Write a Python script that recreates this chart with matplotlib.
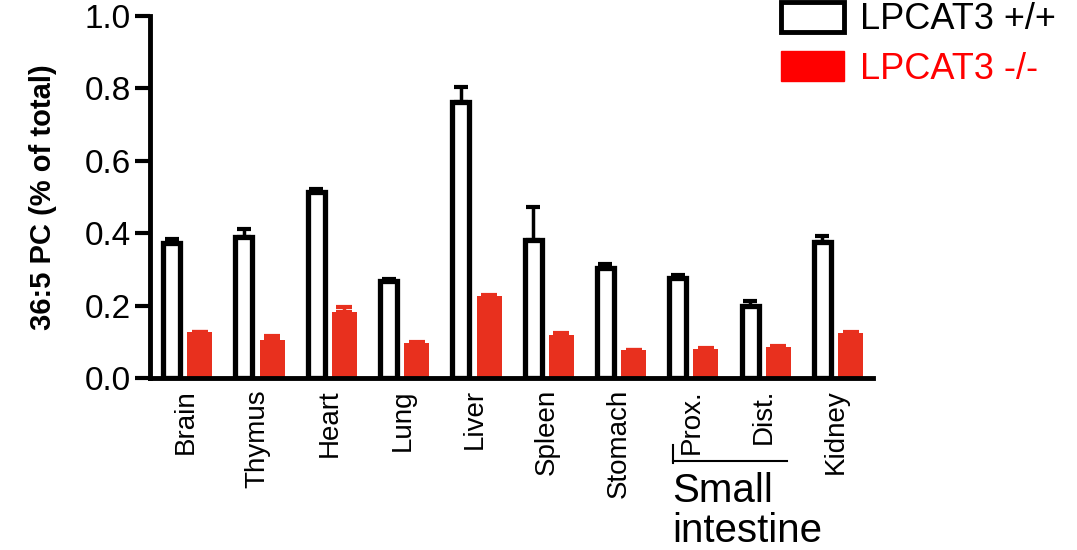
import numpy as np
import matplotlib
matplotlib.use("Agg")
import matplotlib.pyplot as plt
from matplotlib.patches import Patch
from matplotlib.lines import Line2D

plt.rcParams['font.family'] = ['Liberation Sans', 'DejaVu Sans']

# tissues and values
tissues = ['Brain', 'Thymus', 'Heart', 'Lung', 'Liver', 'Spleen',
           'Stomach', 'Prox.', 'Dist.', 'Kidney']
wt_mean = [0.373, 0.390, 0.515, 0.268, 0.763, 0.381, 0.305, 0.277, 0.200, 0.377]
wt_err = [0.012, 0.022, 0.006, 0.005, 0.040, 0.090, 0.009, 0.008, 0.014, 0.015]
ko_mean = [0.126, 0.105, 0.183, 0.097, 0.227, 0.120, 0.077, 0.079, 0.085, 0.125]
ko_err = [0.002, 0.010, 0.012, 0.003, 0.002, 0.004, 0.001, 0.003, 0.003, 0.003]
yticks = [0.0, 0.2, 0.4, 0.6, 0.8, 1.0]

red = '#e8301e'
W, H = 1077, 550

fig = plt.figure(figsize=(W / 100, H / 100), dpi=100)
ax = fig.add_axes([150 / W, (H - 378) / H, (873 - 150) / W, (378 - 16) / H])

x = np.arange(len(tissues))
zeros = np.zeros(len(tissues))

# wild type: open black bars
ax.bar(x - 0.19, wt_mean, width=0.235, facecolor='white', edgecolor='black',
       linewidth=3.8, zorder=2)
ax.errorbar(x - 0.19, wt_mean, yerr=[zeros, wt_err], fmt='none', ecolor='black',
            elinewidth=2.5, capsize=5, capthick=3, zorder=3)

# knockout: filled red bars
ax.bar(x + 0.2, ko_mean, width=0.346, color=red, linewidth=0, zorder=2)
ax.errorbar(x + 0.2, ko_mean, yerr=[zeros, ko_err], fmt='none', ecolor=red,
            elinewidth=2.5, capsize=6, capthick=3, zorder=3)

ax.set_xlim(-0.49, 9.51)
ax.set_ylim(0, 1.0)
ax.set_yticks(yticks)
ax.set_yticklabels(['%.1f' % t for t in yticks], fontsize=24)
ax.tick_params(axis='y', length=11, width=3, pad=3)
ax.set_xticks(x)
ax.set_xticklabels(tissues, rotation=90, fontsize=20, va='top')
ax.tick_params(axis='x', length=0, pad=8)

for s in ['top', 'right']:
    ax.spines[s].set_visible(False)
for s in ['left', 'bottom']:
    ax.spines[s].set_linewidth(3.5)

ax.set_ylabel('36:5 PC (% of total)', fontsize=21, fontweight='bold')
ax.yaxis.set_label_coords((57 - 150) / 723, 0.5)

# small intestine bracket
fig.add_artist(Line2D([673 / W, 787 / W], [1 - 461 / H, 1 - 461 / H],
                      color='black', linewidth=1.5))
fig.add_artist(Line2D([673 / W, 673 / W], [1 - 445 / H, 1 - 463 / H],
                      color='black', linewidth=1.5))
fig.text(672 / W, 1 - 491 / H, 'Small', fontsize=29, ha='left', va='center')
fig.text(672 / W, 1 - 531 / H, 'intestine', fontsize=29, ha='left', va='center')

# legend
handles = [Patch(facecolor='white', edgecolor='black', linewidth=3.5),
           Patch(facecolor='red', edgecolor='red')]
leg = fig.legend(handles, ['LPCAT3 +/+', 'LPCAT3 -/-'], loc='upper left',
                 bbox_to_anchor=(781 / W, 1 - 2 / H), frameon=False, fontsize=26,
                 handlelength=1.75, handleheight=0.9, handletextpad=0.45,
                 labelspacing=0.38, borderpad=0, borderaxespad=0,
                 labelcolor=['black', 'red'])

fig.savefig('out.png', dpi=100)
